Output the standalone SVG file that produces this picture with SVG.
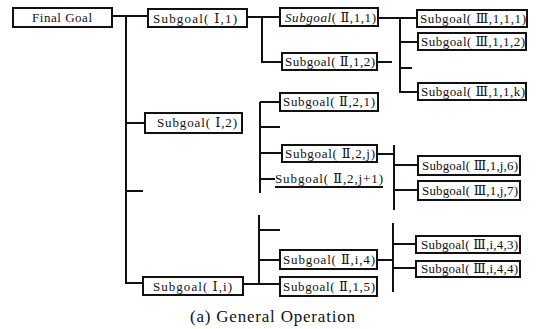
<svg xmlns="http://www.w3.org/2000/svg" width="540" height="329" viewBox="0 0 540 329">
<style>
.box{fill:#fff;stroke:#111;stroke-width:2}
.ln{fill:none;stroke:#111;stroke-width:2}
.t{font-size:13px;fill:#111}
</style>
<rect width="540" height="329" fill="#fff"/>
<g id="connectors" class="ln">
<path d="M112,16 H148"/>
<path d="M126,16 V283 H143"/>
<path d="M126,123 H145"/>
<path d="M126,191 H143"/>
<path d="M247,17 H280"/>
<path d="M262,17 V62 H282"/>
<path d="M377,62 H392"/>
<path d="M378,18 H417"/>
<path d="M400,18 V92 H418"/>
<path d="M400,42 H418"/>
<path d="M400,68 H412"/>
<path d="M260,102 V193"/>
<path d="M260,102 H280"/>
<path d="M260,127 H280"/>
<path d="M260,153 H282"/>
<path d="M260,179 H275"/>
<path d="M377,154 H394"/>
<path d="M394,145 V210"/>
<path d="M394,165 H418"/>
<path d="M394,190 H418"/>
<path d="M259,215 V283"/>
<path d="M259,230 H280"/>
<path d="M259,260 H280"/>
<path d="M243,284 H280"/>
<path d="M377,260 H393"/>
<path d="M393,223 V292"/>
<path d="M393,244 H416"/>
<path d="M393,268 H416"/>
</g>
<g font-family="'Liberation Serif', 'DejaVu Serif', 'Noto Sans CJK SC', serif" class="t">
<g id="final-goal"><rect class="box" x="13" y="8" width="99" height="19"/><text x="32" y="22" textLength="60">Final Goal</text></g>
<g id="sg-1-1"><rect class="box" x="148" y="9" width="99" height="18"/><text x="153" y="23" textLength="84">Subgoal( Ⅰ,1)</text></g>
<g id="sg-1-2"><rect class="box" x="145" y="113" width="97" height="20"/><text x="157" y="127" textLength="80">Subgoal( Ⅰ,2)</text></g>
<g id="sg-1-i"><rect class="box" x="143" y="277" width="100" height="18"/><text x="153" y="291" textLength="79">Subgoal( Ⅰ,i)</text></g>
<g id="sg-2-1-1"><rect class="box" x="280" y="8" width="98" height="18"/><text x="285" y="22" textLength="91"><tspan font-style="italic">Subgoal</tspan>( Ⅱ,1,1)</text></g>
<g id="sg-2-1-2"><rect class="box" x="282" y="53" width="95" height="17"/><text x="285" y="66" textLength="90">Subgoal( Ⅱ,1,2)</text></g>
<g id="sg-2-2-1"><rect class="box" x="280" y="93" width="98" height="18"/><text x="283" y="106" textLength="92">Subgoal( Ⅱ,2,1)</text></g>
<g id="sg-2-2-j"><rect class="box" x="282" y="145" width="95" height="17"/><text x="285" y="158" textLength="90">Subgoal( Ⅱ,2,j)</text></g>
<g id="sg-2-2-j1"><path class="ln" d="M275,187 H383"/><text x="275" y="183" textLength="108">Subgoal( Ⅱ,2,j+1)</text></g>
<g id="sg-2-i-4"><rect class="box" x="280" y="250" width="97" height="19"/><text x="283" y="264" textLength="92">Subgoal( Ⅱ,i,4)</text></g>
<g id="sg-2-1-5"><rect class="box" x="280" y="277" width="97" height="19"/><text x="283" y="291" textLength="92">Subgoal( Ⅱ,1,5)</text></g>
<g id="sg-3-1-1-1"><rect class="box" x="417" y="10" width="110" height="17"/><text x="420" y="23" textLength="106">Subgoal( Ⅲ,1,1,1)</text></g>
<g id="sg-3-1-1-2"><rect class="box" x="418" y="33" width="108" height="17"/><text x="421" y="46" textLength="104">Subgoal( Ⅲ,1,1,2)</text></g>
<g id="sg-3-1-1-k"><rect class="box" x="418" y="83" width="108" height="17"/><text x="421" y="96" textLength="104">Subgoal( Ⅲ,1,1,k)</text></g>
<g id="sg-3-1-j-6"><rect class="box" x="418" y="156" width="102" height="19"/><text x="422" y="170" textLength="96">Subgoal( Ⅲ,1,j,6)</text></g>
<g id="sg-3-1-j-7"><rect class="box" x="418" y="181" width="102" height="19"/><text x="422" y="195" textLength="96">Subgoal( Ⅲ,1,j,7)</text></g>
<g id="sg-3-i-4-3"><rect class="box" x="416" y="236" width="104" height="17"/><text x="421" y="249" textLength="97">Subgoal( Ⅲ,i,4,3)</text></g>
<g id="sg-3-i-4-4"><rect class="box" x="416" y="261" width="104" height="16"/><text x="421" y="273" textLength="97">Subgoal( Ⅲ,i,4,4)</text></g>
<text x="190" y="322" style="font-size:17px" textLength="165">(a) General Operation</text>
</g>
</svg>
